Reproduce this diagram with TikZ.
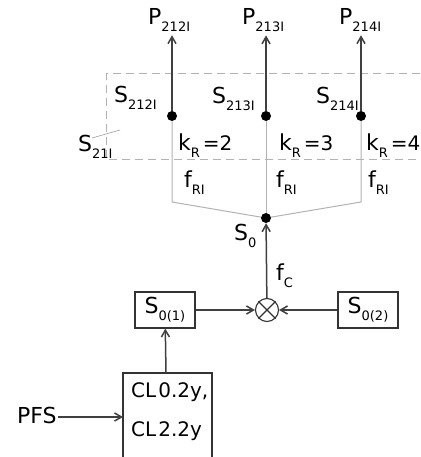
\documentclass[tikz,border=0pt]{standalone}
\usepackage{fontspec}
\setmainfont{DejaVu Sans}
\usetikzlibrary{arrows.meta}
\newcommand\sbs[1]{\raisebox{-7pt}{\fontsize{13}{13}\selectfont #1}}
\newcommand\kr[1]{k\sbs{R}\kern3pt{\fontsize{20}{22}\selectfont=#1}}
\begin{document}
\begin{tikzpicture}[x=1pt,y=-1pt,font=\fontsize{22}{24}\selectfont,
  arr/.style={draw=black!75,line width=1.5pt,-{Straight Barb[length=7pt,width=8pt]}},
  lite/.style={draw=black!30,line width=1pt},
  dot/.style={circle,fill=black,inner sep=0pt,minimum size=10pt},
  blk/.style={draw=black!80,line width=1.1pt,minimum width=60pt,minimum height=36pt,inner sep=2pt},
  lbl/.style={inner sep=1pt,anchor=base west}]
\useasboundingbox (0,0) rectangle (420,457);
% dashed group box
\draw[lite,dash pattern=on 8pt off 5pt] (420,74) -- (106,74) -- (106,160) -- (420,160);
% dots
\node[dot] (d1) at (172,116) {};
\node[dot] (d2) at (266,116) {};
\node[dot] (d3) at (361,116) {};
\node[dot] (s0) at (266,218) {};
% outputs
\node[lbl] (p1) at (147,25) {P\sbs{212I}};
\node[lbl] (p2) at (241,25) {P\sbs{213I}};
\node[lbl] (p3) at (338,25) {P\sbs{214I}};
\draw[arr] (d1) -- ([yshift=-2pt]d1 |- p1.south);
\draw[arr] (d2) -- ([yshift=-2pt]d2 |- p2.south);
\draw[arr] (d3) -- ([yshift=-2pt]d3 |- p3.south);
% labels in box
\node[lbl] (s212) at (113,103) {S\sbs{212I}};
\node[lbl] (s213) at (211,104) {S\sbs{213I}};
\node[lbl] (s214) at (315,104) {S\sbs{214I}};
\node[lbl] (s21) at (77,152) {S\sbs{21I}};
\coordinate (lead0) at (92,138);
\coordinate (lead) at (120,130);
\draw[draw=black!40,line width=0.6pt] (lead0) -- (lead);
\node[lbl] (k2) at (177,150) {\kr{2}};
\node[lbl] (k3) at (278,150) {\kr{3}};
\node[lbl] (k4) at (365,150) {\kr{4}};
% light distribution lines
\coordinate (b1) at (172,202);
\coordinate (b3) at (361,202);
\draw[lite] (d1) -- (b1) -- (s0);
\draw[lite] (d2) -- (s0);
\draw[lite] (d3) -- (b3) -- (s0);
\node[lbl] (f1) at (183,187) {f\sbs{RI}};
\node[lbl] (f2) at (275,187) {f\sbs{RI}};
\node[lbl] (f3) at (367,187) {f\sbs{RI}};
\node[lbl] (s0l) at (233,240) {S\sbs{0}};
% combiner
\node[circle,draw=black!80,line width=1.1pt,minimum size=23pt,inner sep=0pt] (cx) at (267,310) {};
\draw[black!80,line width=1.1pt] (cx.north east) -- (cx.south west) (cx.north west) -- (cx.south east);
\draw[arr] (cx) -- (s0);
\node[lbl] (fc) at (275,280) {f\sbs{C}};
\node[blk] (s01) at (165,310) {S\sbs{0(1)}};
\node[blk] (s02) at (368,310) {S\sbs{0(2)}};
\draw[arr] (s01) -- (cx);
\draw[arr] (s02) -- (cx);
% CL box (bottom cut off)
\draw[black!80,line width=1.1pt] (123,460) -- (123,373) -- (212,373) -- (212,460);
\node[lbl,font=\fontsize{20}{22}\selectfont] (cl1) at (130,397) {CL\kern2pt0.2y,};
\node[lbl,font=\fontsize{20}{22}\selectfont] (cl2) at (130,436) {CL\kern2pt2.2y};
\coordinate (clt) at (166,373);
\coordinate (clw) at (123,417);
\draw[arr] (clt) -- (s01);
\node[lbl] (pfs) at (16,423) {PFS};
\draw[arr] (pfs.east |- clw) -- (clw);
\end{tikzpicture}
\end{document}
